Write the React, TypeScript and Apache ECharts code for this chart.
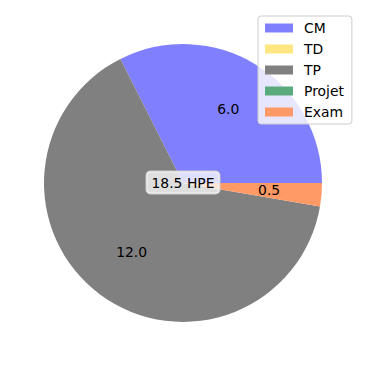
import React, { useEffect, useRef } from "react";
import * as echarts from "echarts";

const categories = ["CM", "TD", "TP", "Projet", "Exam"];
const values = [6.0, 0, 12.0, 0, 0.5];
const colors = ["#8080ff", "#ffe680", "#808080", "#5aaa7d", "#ff9966"];
const totalLabel = "18.5 HPE";

export default function App() {
  const ref = useRef<HTMLDivElement>(null);
  useEffect(() => {
    if (!ref.current) return;
    const chart = echarts.init(ref.current, null, { renderer: "svg" });
    const font = "DejaVu Sans";
    const data = categories.map((c, i) => ({
      name: c,
      value: values[i],
      itemStyle: { color: colors[i] },
    }));
    chart.setOption({
      animation: false,
      backgroundColor: "#ffffff",
      legend: {
        data: categories,
        orient: "vertical",
        left: 258,
        top: 16,
        icon: "rect",
        itemWidth: 28,
        itemHeight: 9,
        itemGap: 7,
        padding: [5, 8, 5, 7],
        backgroundColor: "rgba(255,255,255,0.8)",
        borderColor: "#cccccc",
        borderWidth: 1,
        borderRadius: 3,
        selectedMode: false,
        textStyle: {
          fontFamily: font,
          fontSize: 13.9,
          color: "#000",
          lineHeight: 14,
          padding: [0, 0, 0, 6],
        },
      },
      series: [
        {
          type: "pie",
          center: [183, 183],
          radius: [0, 139],
          startAngle: 0,
          clockwise: false,
          silent: true,
          label: { show: false },
          labelLine: { show: false },
          itemStyle: { borderWidth: 0 },
          data,
        },
        {
          type: "pie",
          center: [183, 183],
          radius: [27.8, 139],
          startAngle: 0,
          clockwise: false,
          silent: true,
          z: 3,
          legendHoverLink: false,
          labelLine: { show: false },
          itemStyle: { color: "rgba(0,0,0,0)", borderWidth: 0 },
          label: {
            show: true,
            position: "inside",
            fontFamily: font,
            fontSize: 13.9,
            color: "#000",
            formatter: (p: any) => (p.value > 0 ? p.value.toFixed(1) : ""),
          },
          data: categories.map((c, i) => ({ name: c + "_lbl", value: values[i] })),
        },
      ],
      graphic: [
        {
          type: "text",
          x: 183,
          y: 182.5,
          z: 10,
          style: {
            text: totalLabel,
            fontFamily: font,
            fontSize: 13.9,
            fill: "#000",
            align: "center",
            verticalAlign: "middle",
            backgroundColor: "rgba(255,255,255,0.75)",
            borderColor: "#cccccc",
            borderWidth: 1,
            borderRadius: 4,
            padding: [4, 5, 4, 5],
          },
        },
      ],
    });
    return () => chart.dispose();
  }, []);
  return (
    <div
      ref={ref}
      style={{ position: "fixed", left: 0, top: 0, width: 366, height: 366 }}
    />
  );
}
